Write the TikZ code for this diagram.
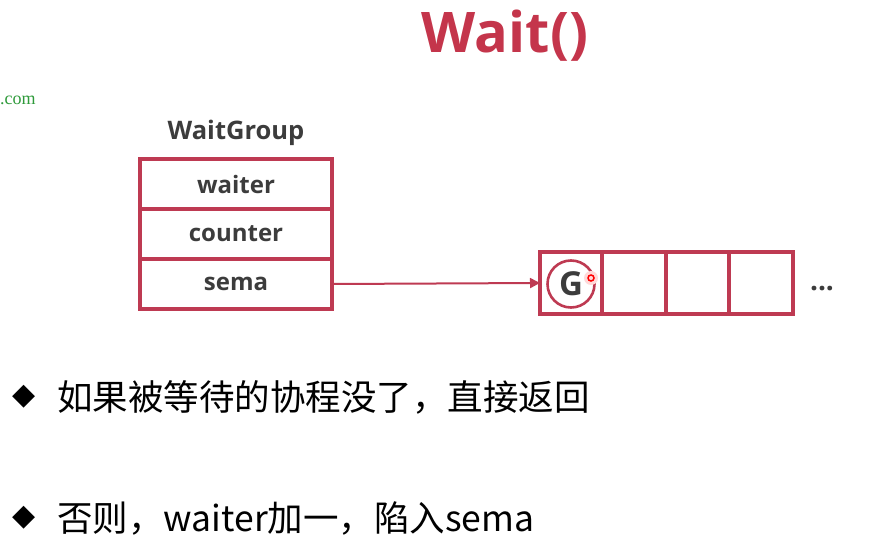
\documentclass[tikz,border=0pt]{standalone}
\usepackage{fontspec}
\setmainfont{Open Sans}
\newfontfamily\cjk{Noto Sans CJK SC}
\newfontfamily\dejavu{DejaVu Sans}
\newfontfamily\serifgreen{Liberation Serif}
\usetikzlibrary{arrows.meta}
\definecolor{wred}{HTML}{C4354B}
\definecolor{bred}{HTML}{BE3A52}
\definecolor{dgray}{HTML}{3C3C3C}
\definecolor{ggreen}{HTML}{2E9A3A}
\tikzset{
  cell/.style={draw=bred, line width=3.2pt, minimum width=192pt, minimum height=50pt, inner sep=0pt, outer sep=0pt,
    font=\fontsize{24}{26}\selectfont\bfseries, text=dgray},
  qcell/.style={draw=bred, line width=3.2pt, minimum height=62pt, inner sep=0pt, outer sep=0pt},
  bul/.style={anchor=west, font=\cjk\fontsize{35.5}{38}\selectfont, text=black, inner sep=0pt},
  diam/.style={anchor=center, font=\dejavu\fontsize{30}{32}\selectfont, text=black, inner sep=0pt},
}
\begin{document}
\begin{tikzpicture}[x=1pt,y=-1pt]
\useasboundingbox (0,0) rectangle (889,551);
\node[font=\fontsize{56}{60}\selectfont\bfseries, text=wred] (title) at (505,36) {Wait()};
\node[anchor=west, font=\serifgreen\fontsize{18}{20}\selectfont, text=ggreen, inner sep=0pt] (com) at (0,100) {.com};
\node[font=\fontsize{25.5}{28}\selectfont\bfseries, text=dgray] (wg) at (236,133) {WaitGroup};
\node[cell] (waiter) at (236,184) {\raisebox{-1.5pt}{waiter}};
\node[cell] (counter) at (236,234) {\raisebox{-1.5pt}{counter}};
\node[cell] (sema) at (236,284) {\raisebox{-1.5pt}{sema}};
\node[qcell, minimum width=62pt] (q1) at (571,283) {};
\node[qcell, minimum width=64pt] (q2) at (634,283) {};
\node[qcell, minimum width=63pt] (q3) at (697.5,283) {};
\node[qcell, minimum width=64pt] (q4) at (761,283) {};
\node[circle, draw=bred, line width=2.6pt, minimum size=47pt, inner sep=0pt,
  font=\fontsize{33}{34}\selectfont\bfseries, text=dgray] (g) at (571,284) {G};
\node[circle, fill=red!15, minimum size=14pt, inner sep=0pt] (glow) at (591,278) {};
\node[circle, draw=red, line width=1.5pt, minimum size=6pt, inner sep=0pt] (dot) at (591,278) {};
\node[font=\fontsize{28}{30}\selectfont\bfseries, text=dgray] (dots) at (822,289) {...};
\draw[bred, line width=2pt, -{Triangle[length=10pt,width=10pt]}] (sema.east) -- (q1.west);
\node[diam] (b1) at (24,397) {◆};
\node[bul] (t1) at (57,397) {如果被等待的协程没了，直接返回};
\node[diam] (b2) at (24,518) {◆};
\node[bul] (t2) at (57,518) {否则，waiter加一，陷入sema};
\end{tikzpicture}
\end{document}
